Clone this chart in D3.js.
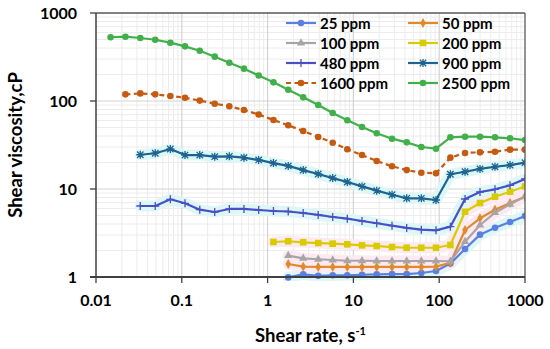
<!DOCTYPE html>
<html><head><meta charset="utf-8">
<script src="https://cdn.jsdelivr.net/npm/d3@7"></script>
<style>
body{margin:0;background:#fff;}
text{font-family:Lato,"Open Sans",sans-serif;font-weight:bold;fill:#000;}
</style></head>
<body><svg id="c" width="550" height="349"></svg>
<script>
// ---- data ----
const shearRate = [0.0148,0.022,0.0328,0.049,0.0735,0.109,0.162,0.242,0.358,0.53,0.787,1.17,1.74,2.6,3.89,5.74,8.49,12.6,18.7,28.2,41.8,61.9,91.8,135,200,299,447,669,1000];
const seriesNames = ["25 ppm","50 ppm","100 ppm","200 ppm","480 ppm","900 ppm","1600 ppm","2500 ppm"];
const startIndex = [12,12,12,11,2,2,1,0];
const visc25   = [0.99,1.07,1.03,1.045,1.045,1.06,1.07,1.08,1.08,1.11,1.17,1.42,2.08,3.03,3.63,4.22,4.93];
const visc50   = [1.405,1.31,1.30,1.30,1.30,1.30,1.30,1.30,1.30,1.30,1.31,1.45,3.42,4.65,5.82,6.93,8.18];
const visc100  = [1.75,1.63,1.59,1.56,1.53,1.53,1.52,1.52,1.52,1.52,1.52,1.51,2.52,3.9,5.38,6.70,8.18];
const visc200  = [2.50,2.55,2.48,2.43,2.39,2.35,2.29,2.25,2.19,2.15,2.15,2.15,2.31,5.52,6.93,8.18,9.32,10.7];
const visc480  = [6.41,6.41,7.64,6.88,5.82,5.48,5.93,5.93,5.77,5.62,5.55,5.34,5.07,4.81,4.6,4.33,4.08,3.83,3.61,3.45,3.39,3.73,7.7,9.25,9.92,11.0,13.0];
const visc900  = [24.5,25.5,28.5,24.3,24.3,23.3,23.5,22.7,21.4,19.7,18.3,16.4,14.8,13.3,12,10.7,9.57,8.61,7.84,7.84,7.5,14.7,15.7,16.9,17.9,18.7,19.9];
const visc1600 = [119,122,119,114,109,101,93.2,87.1,79,70.3,60.8,53,45.6,39,33.6,28.3,24.3,20.8,18.1,16.4,15.3,15.1,22.7,25.7,26.1,26.5,28,28];
const visc2500 = [530,538,520,497,460,418,373,319,272,233,195,163,134,110,90,73,60.4,50.6,43,37.3,33.9,30,28.7,38.7,39.3,39.3,38.7,37.7,36];
const xTicks = [0.01,0.1,1,10,100,1000];
const xTickLabels = ["0.01","0.1","1","10","100","1000"];
const yTicks = [1,10,100,1000];
const yTickLabels = ["1","10","100","1000"];

const allValues = [visc25,visc50,visc100,visc200,visc480,visc900,visc1600,visc2500];
const colors = ["#5b7fe0","#e08a2a","#a6a6a6","#d8cc00","#4a4fc4","#1f6391","#c55a11","#41b04a"];
const markers = ["circle","diamond","triangle","square","plus","star","circle","circle"];
const glows = ["#ddf7f7","#fde9f2","#fde9f2","#fde9f2","#ddf7f7","#ddf7f7",null,null];

const svg = d3.select("#c");
const L=96,R=525,T=13,B=277;
const x = d3.scaleLog().domain([0.01,1000]).range([L,R]);
const y = d3.scaleLog().domain([1,1000]).range([B,T]);

// grid
const g = svg.append("g");
const minorX=[],minorY=[];
for(let e=-2;e<3;e++) for(let k=2;k<10;k++) minorX.push(k*Math.pow(10,e));
for(let e=0;e<3;e++) for(let k=2;k<10;k++) minorY.push(k*Math.pow(10,e));
g.selectAll(".mx").data(minorX).join("line").attr("x1",d=>x(d)).attr("x2",d=>x(d)).attr("y1",T).attr("y2",B).attr("stroke","#ececec").attr("stroke-width",1);
g.selectAll(".my").data(minorY).join("line").attr("y1",d=>y(d)).attr("y2",d=>y(d)).attr("x1",L).attr("x2",R).attr("stroke","#ececec").attr("stroke-width",1);
g.selectAll(".Mx").data(xTicks.slice(1,-1)).join("line").attr("x1",d=>x(d)).attr("x2",d=>x(d)).attr("y1",T).attr("y2",B).attr("stroke","#d4d4d4").attr("stroke-width",1.2);
g.selectAll(".My").data(yTicks.slice(1,-1)).join("line").attr("y1",d=>y(d)).attr("y2",d=>y(d)).attr("x1",L).attr("x2",R).attr("stroke","#d4d4d4").attr("stroke-width",1.2);

svg.append("defs").append("clipPath").attr("id","clip").append("rect").attr("x",L).attr("y",T).attr("width",R-L).attr("height",B-T+4);

const series = allValues.map((vals,i)=>vals.map((v,j)=>({x:shearRate[startIndex[i]+j],y:v})));
const line = d3.line().x(d=>x(d.x)).y(d=>y(d.y));
const plot = svg.append("g").attr("clip-path","url(#clip)");

// glow
series.forEach((s,i)=>{ if(glows[i]) plot.append("path").attr("d",line(s)).attr("fill","none").attr("stroke",glows[i]).attr("stroke-width",11).attr("stroke-linejoin","round").attr("stroke-linecap","round"); });

function drawMarker(sel,type,color){
  if(type==="circle") sel.append("circle").attr("r",3.3).attr("fill",color);
  else if(type==="diamond") sel.append("path").attr("d",d3.symbol(d3.symbolDiamond,28)()).attr("fill",color);
  else if(type==="triangle") sel.append("path").attr("d",d3.symbol(d3.symbolTriangle,30)()).attr("fill",color);
  else if(type==="square") sel.append("rect").attr("x",-3.3).attr("y",-3.3).attr("width",6.6).attr("height",6.6).attr("fill",color);
  else if(type==="plus") sel.append("path").attr("d","M-4,0H4M0,-4V4").attr("stroke",color).attr("stroke-width",1.3);
  else if(type==="star") sel.append("path").attr("d","M-3.2,-3.2L3.2,3.2M-3.2,3.2L3.2,-3.2M0,-4V4M-4,0H4").attr("stroke",color).attr("stroke-width",1.3);
}

series.forEach((s,i)=>{
  plot.append("path").attr("d",line(s)).attr("fill","none").attr("stroke",colors[i]).attr("stroke-width",2.2)
    .attr("stroke-dasharray", i===6?"5,3.5":null).attr("stroke-linejoin","round");
  s.forEach(d=>{ const m=plot.append("g").attr("transform",`translate(${x(d.x)},${y(d.y)})`); drawMarker(m,markers[i],colors[i]); });
});

// frame & axes
svg.append("line").attr("x1",L).attr("x2",R).attr("y1",T).attr("y2",T).attr("stroke","#595959").attr("stroke-width",1.3);
svg.append("line").attr("x1",R).attr("x2",R).attr("y1",T).attr("y2",B).attr("stroke","#595959").attr("stroke-width",1.3);
svg.append("line").attr("x1",L).attr("x2",L).attr("y1",T).attr("y2",B).attr("stroke","#404040").attr("stroke-width",1.5);
svg.append("line").attr("x1",L-6).attr("x2",R).attr("y1",B).attr("y2",B).attr("stroke","#404040").attr("stroke-width",1.8);
svg.selectAll(".xt").data(xTicks).join("line").attr("x1",d=>x(d)).attr("x2",d=>x(d)).attr("y1",B).attr("y2",B+6).attr("stroke","#404040").attr("stroke-width",1.3);
svg.selectAll(".yt").data(yTicks).join("line").attr("x1",L-6).attr("x2",L).attr("y1",d=>y(d)).attr("y2",d=>y(d)).attr("stroke","#404040").attr("stroke-width",1.3);

svg.selectAll(".xl").data(xTicks).join("text").attr("x",d=>x(d)).attr("y",B+29).attr("text-anchor","middle").attr("font-size",16).text((d,i)=>xTickLabels[i]);
svg.selectAll(".yl").data(yTicks).join("text").attr("x",L-19).attr("y",d=>y(d)+6).attr("text-anchor","end").attr("font-size",16).text((d,i)=>yTickLabels[i]);

const xt = svg.append("text").attr("x",(L+R)/2).attr("y",342).attr("text-anchor","middle").attr("font-size",18.5);
xt.append("tspan").text("Shear rate, s");
xt.append("tspan").attr("dy",-7).attr("font-size",11).text("-1");
svg.append("text").attr("transform",`translate(22,${(T+B)/2}) rotate(-90)`).attr("text-anchor","middle").attr("font-size",18.5).text("Shear viscosity,cP");

// legend
const leg = svg.append("g");
seriesNames.forEach((n,i)=>{
  const col=i%2,row=Math.floor(i/2);
  const lx = col===0?286:408, ly=23+row*20;
  const gg=leg.append("g");
  gg.append("line").attr("x1",lx).attr("x2",lx+30).attr("y1",ly).attr("y2",ly).attr("stroke",colors[i]).attr("stroke-width",2.2).attr("stroke-dasharray",i===6?"5,3.5":null);
  const m=gg.append("g").attr("transform",`translate(${lx+15},${ly})`); drawMarker(m,markers[i],colors[i]);
  gg.append("text").attr("x",lx+34).attr("y",ly+5.5).attr("font-size",15).text(n);
});
</script></body></html>
